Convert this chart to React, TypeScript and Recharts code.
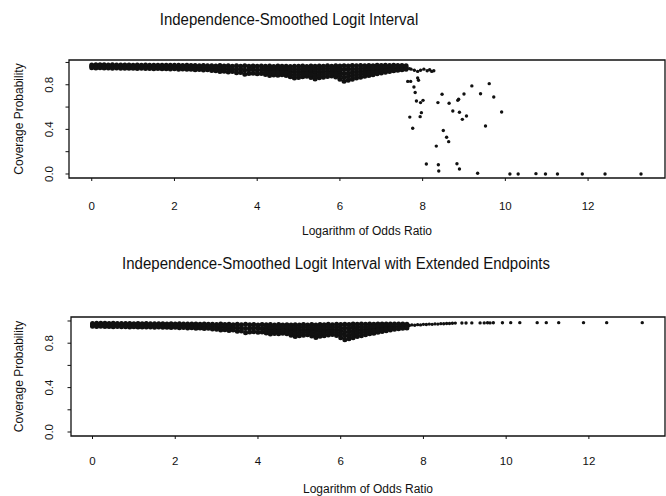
import React from 'react';
import { ScatterChart, Scatter, XAxis, YAxis, ReferenceArea } from 'recharts';

const bandX = [
  0.0, 0.1, 0.2, 0.3, 0.4, 0.5, 0.6, 0.7, 0.8, 0.9,
  1.0, 1.1, 1.2, 1.3, 1.4, 1.5, 1.6, 1.7, 1.8, 1.9,
  2.0, 2.1, 2.2, 2.3, 2.4, 2.5, 2.6, 2.7, 2.8, 2.9,
  3.0, 3.1, 3.2, 3.3, 3.4, 3.5, 3.6, 3.7, 3.8, 3.9,
  4.0, 4.1, 4.2, 4.3, 4.4, 4.5, 4.6, 4.7, 4.8, 4.9,
  5.0, 5.1, 5.2, 5.3, 5.4, 5.5, 5.6, 5.7, 5.8, 5.9,
  6.0, 6.1, 6.2, 6.3, 6.4, 6.5, 6.6, 6.7, 6.8, 6.9,
  7.0, 7.1, 7.2, 7.3, 7.4, 7.5, 7.6,
];
const bandUpper = [
  0.978, 0.980, 0.979, 0.980, 0.978, 0.979, 0.977, 0.978, 0.977, 0.978,
  0.976, 0.977, 0.976, 0.977, 0.975, 0.976, 0.975, 0.976, 0.974, 0.975,
  0.974, 0.975, 0.973, 0.974, 0.972, 0.973, 0.971, 0.972, 0.970, 0.971,
  0.969, 0.972, 0.968, 0.971, 0.967, 0.970, 0.966, 0.970, 0.967, 0.969,
  0.965, 0.969, 0.966, 0.968, 0.964, 0.968, 0.965, 0.967, 0.964, 0.967,
  0.965, 0.968, 0.964, 0.968, 0.965, 0.969, 0.966, 0.970, 0.967, 0.970,
  0.968, 0.971, 0.969, 0.972, 0.970, 0.973, 0.971, 0.973, 0.971, 0.974,
  0.972, 0.974, 0.972, 0.974, 0.972, 0.973, 0.970,
];
const bandMiddle = [
  0.965, 0.965, 0.966, 0.965, 0.964, 0.964, 0.963, 0.963, 0.963, 0.962,
  0.962, 0.961, 0.961, 0.961, 0.960, 0.960, 0.960, 0.959, 0.959, 0.958,
  0.958, 0.957, 0.957, 0.956, 0.955, 0.954, 0.954, 0.952, 0.952, 0.950,
  0.947, 0.946, 0.945, 0.943, 0.942, 0.939, 0.938, 0.933, 0.934, 0.936,
  0.932, 0.935, 0.929, 0.925, 0.926, 0.927, 0.928, 0.925, 0.918, 0.914,
  0.915, 0.920, 0.920, 0.917, 0.909, 0.915, 0.917, 0.922, 0.922, 0.920,
  0.909, 0.902, 0.904, 0.911, 0.915, 0.920, 0.923, 0.928, 0.930, 0.936,
  0.938, 0.943, 0.945, 0.949, 0.951, 0.954, 0.954,
];
const bandLower = [
  0.952, 0.950, 0.952, 0.950, 0.951, 0.949, 0.950, 0.948, 0.949, 0.947,
  0.948, 0.946, 0.947, 0.945, 0.946, 0.944, 0.945, 0.943, 0.944, 0.942,
  0.943, 0.940, 0.941, 0.938, 0.939, 0.935, 0.937, 0.932, 0.934, 0.928,
  0.925, 0.920, 0.922, 0.915, 0.918, 0.908, 0.910, 0.895, 0.902, 0.904,
  0.898, 0.902, 0.892, 0.882, 0.888, 0.886, 0.890, 0.884, 0.872, 0.860,
  0.866, 0.872, 0.876, 0.865, 0.852, 0.862, 0.868, 0.874, 0.878, 0.870,
  0.850, 0.832, 0.840, 0.850, 0.860, 0.868, 0.876, 0.884, 0.890, 0.898,
  0.905, 0.912, 0.918, 0.925, 0.930, 0.935, 0.938,
];
// extra rows where the band is widest (x from 4.2 to 7.2)
const wideX = bandX.slice(42, 73);
const wideHigh = [
  0.948, 0.946, 0.945, 0.947, 0.946, 0.946, 0.941, 0.940, 0.940, 0.944,
  0.942, 0.942, 0.937, 0.942, 0.941, 0.946, 0.944, 0.945, 0.938, 0.936,
  0.936, 0.941, 0.942, 0.946, 0.947, 0.950, 0.950, 0.955, 0.955, 0.958,
  0.958,
];
const wideDeep = [
  0.910, 0.903, 0.907, 0.906, 0.909, 0.904, 0.895, 0.887, 0.890, 0.896,
  0.898, 0.891, 0.880, 0.888, 0.892, 0.898, 0.900, 0.895, 0.880, 0.867,
  0.872, 0.880, 0.887, 0.894, 0.900, 0.906, 0.910, 0.917, 0.921, 0.927,
  0.931,
];

// top panel: sparse points just past the band, then the scattered breakdown
const tailTopX = [7.68, 7.72, 7.80, 7.88, 7.95, 8.03, 8.11, 8.17, 8.22, 8.27];
const tailTopY = [0.945, 0.940, 0.930, 0.920, 0.930, 0.940, 0.925, 0.935, 0.920, 0.925];
const spreadX = [
  7.64, 7.71, 7.88, 7.90, 7.79, 7.82, 7.85, 7.95, 8.01, 7.97,
  7.94, 7.69, 7.76, 8.09, 8.33, 8.37, 8.47, 8.38, 8.39, 8.50,
  8.58, 8.63, 8.64, 8.73, 8.85, 8.87, 8.89, 9.00, 9.06, 8.96,
  8.83, 8.89, 9.19, 9.33, 9.40, 9.52, 9.61, 9.72, 9.91, 10.11,
  10.31, 10.74, 10.97, 11.26, 11.86, 12.41, 13.28,
];
const spreadY = [
  0.83, 0.83, 0.86, 0.84, 0.78, 0.73, 0.655, 0.64, 0.66, 0.55,
  0.514, 0.51, 0.41, 0.09, 0.25, 0.64, 0.715, 0.083, 0.027, 0.39,
  0.33, 0.29, 0.634, 0.565, 0.66, 0.67, 0.553, 0.717, 0.52, 0.49,
  0.092, 0.045, 0.79, 0.006, 0.72, 0.43, 0.81, 0.69, 0.556, 0.0,
  0.0, 0.003, 0.0, 0.0, 0.0, 0.0, 0.0,
];

// bottom panel: extended endpoints keep the tail near the top
const tailBottomX = [
  7.66, 7.72, 7.79, 7.86, 7.93, 8.00, 8.07, 8.14, 8.21, 8.28,
  8.35, 8.42, 8.49, 8.56, 8.63, 8.70, 8.77, 8.93, 9.03, 9.17,
  9.37, 9.47, 9.55, 9.61, 9.69, 9.91, 10.11, 10.33, 10.75, 10.97,
  11.27, 11.87, 12.43, 13.29,
];
const tailBottomY = [
  0.960, 0.965, 0.962, 0.967, 0.965, 0.970, 0.968, 0.972, 0.970, 0.974,
  0.972, 0.976, 0.975, 0.978, 0.977, 0.980, 0.981, 0.982, 0.982, 0.983,
  0.983, 0.983, 0.984, 0.983, 0.984, 0.984, 0.985, 0.985, 0.985, 0.985,
  0.985, 0.985, 0.985, 0.985,
];

const xTicks = [0, 2, 4, 6, 8, 10, 12];
const yTicks = [0, 0.2, 0.4, 0.6, 0.8, 1.0];
const yLabelled = [0, 0.4, 0.8];

const INK = '#111';
const FONT = '"Liberation Sans", Arial, Helvetica, sans-serif';

const pts = (xs: number[], ys: number[]) => xs.map((x, i) => ({ x, y: ys[i] }));

const BandDot = (p: any) => <circle cx={p.cx} cy={p.cy} r={2.5} fill={INK} />;
const Dot = (p: any) => <circle cx={p.cx} cy={p.cy} r={1.7} fill={INK} />;

const YTick = (props: any) => {
  const { x, y, payload } = props;
  const v = Math.round(payload.value * 10) / 10;
  if (!yLabelled.includes(v)) return <g />;
  return (
    <text
      x={x}
      y={y}
      transform={`rotate(-90 ${x} ${y})`}
      textAnchor="middle"
      fontSize={11.5}
      fill={INK}
      fontFamily={FONT}
    >
      {v.toFixed(1)}
    </text>
  );
};

interface PanelProps {
  top: number;
  marginTop: number;
  marginBottom: number;
  yAxisWidth: number;
  xAxisHeight: number;
  xDomain: [number, number];
  yDomain: [number, number];
  xTickMargin: number;
  yTickMargin: number;
  children: React.ReactNode;
}

const Panel: React.FC<PanelProps> = (p) => (
  <div style={{ position: 'absolute', left: 0, top: p.top }}>
    <ScatterChart
      width={666}
      height={248}
      margin={{ top: p.marginTop, right: 1, bottom: p.marginBottom, left: 0 }}
    >
      <XAxis
        type="number"
        dataKey="x"
        domain={p.xDomain}
        allowDataOverflow
        ticks={xTicks}
        interval={0}
        height={p.xAxisHeight}
        tickSize={3}
        tickMargin={p.xTickMargin}
        axisLine={false}
        tickLine={{ stroke: INK }}
        tick={{ fontSize: 11.5, fill: INK, fontFamily: FONT }}
        label={{
          content: (lp: any) => {
            const vb = lp.viewBox;
            return (
              <text
                x={vb.x + vb.width / 2}
                y={vb.y + 57}
                textAnchor="middle"
                fontSize={12}
                fill={INK}
                fontFamily={FONT}
              >
                Logarithm of Odds Ratio
              </text>
            );
          },
        }}
      />
      <YAxis
        type="number"
        dataKey="y"
        domain={p.yDomain}
        allowDataOverflow
        ticks={yTicks}
        interval={0}
        width={p.yAxisWidth}
        tickSize={3.5}
        tickMargin={p.yTickMargin}
        axisLine={false}
        tickLine={{ stroke: INK }}
        tick={<YTick />}
        label={{
          content: (lp: any) => {
            const vb = lp.viewBox;
            const cx = vb.x + 22.5;
            const cy = vb.y + vb.height / 2;
            return (
              <text
                x={cx}
                y={cy}
                transform={`rotate(-90 ${cx} ${cy})`}
                textAnchor="middle"
                fontSize={12}
                fill={INK}
                fontFamily={FONT}
              >
                Coverage Probability
              </text>
            );
          },
        }}
      />
      {p.children}
      <ReferenceArea
        x1={p.xDomain[0]}
        x2={p.xDomain[1]}
        y1={p.yDomain[0]}
        y2={p.yDomain[1]}
        fill="none"
        stroke={INK}
        strokeWidth={1.3}
        ifOverflow="visible"
      />
    </ScatterChart>
  </div>
);

const bandSeries = (key: string) => [
  <Scatter key={key + 'u'} data={pts(bandX, bandUpper)} shape={BandDot} isAnimationActive={false} />,
  <Scatter key={key + 'm'} data={pts(bandX, bandMiddle)} shape={BandDot} isAnimationActive={false} />,
  <Scatter key={key + 'l'} data={pts(bandX, bandLower)} shape={BandDot} isAnimationActive={false} />,
  <Scatter key={key + 'h'} data={pts(wideX, wideHigh)} shape={BandDot} isAnimationActive={false} />,
  <Scatter key={key + 'd'} data={pts(wideX, wideDeep)} shape={BandDot} isAnimationActive={false} />,
];

const titleStyle: React.CSSProperties = {
  position: 'absolute',
  whiteSpace: 'nowrap',
  fontFamily: FONT,
  fontSize: 15,
  lineHeight: '15px',
  color: INK,
  transform: 'translateX(-50%) scaleY(1.15)',
};

export default function App() {
  return (
    <div
      style={{
        position: 'absolute',
        left: 0,
        top: 0,
        width: 666,
        height: 496,
        background: '#fff',
        fontFamily: FONT,
        overflow: 'hidden',
      }}
    >
      <div style={{ ...titleStyle, left: 289, top: 11 }}>Independence-Smoothed Logit Interval</div>
      <div style={{ ...titleStyle, left: 336, top: 255 }}>
        Independence-Smoothed Logit Interval with Extended Endpoints
      </div>
      <Panel
        top={0}
        marginTop={60}
        marginBottom={10}
        yAxisWidth={69}
        xAxisHeight={60}
        xDomain={[-0.55, 13.86]}
        yDomain={[-0.036, 1.022]}
        xTickMargin={21}
        yTickMargin={12}
      >
        {bandSeries('t')}
        <Scatter data={pts(tailTopX, tailTopY)} shape={Dot} isAnimationActive={false} />
        <Scatter data={pts(spreadX, spreadY)} shape={Dot} isAnimationActive={false} />
      </Panel>
      <Panel
        top={248}
        marginTop={69}
        marginBottom={5}
        yAxisWidth={71}
        xAxisHeight={55}
        xDomain={[-0.52, 13.84]}
        yDomain={[-0.036, 1.036]}
        xTickMargin={18}
        yTickMargin={14}
      >
        {bandSeries('b')}
        <Scatter data={pts(tailBottomX, tailBottomY)} shape={Dot} isAnimationActive={false} />
      </Panel>
    </div>
  );
}
